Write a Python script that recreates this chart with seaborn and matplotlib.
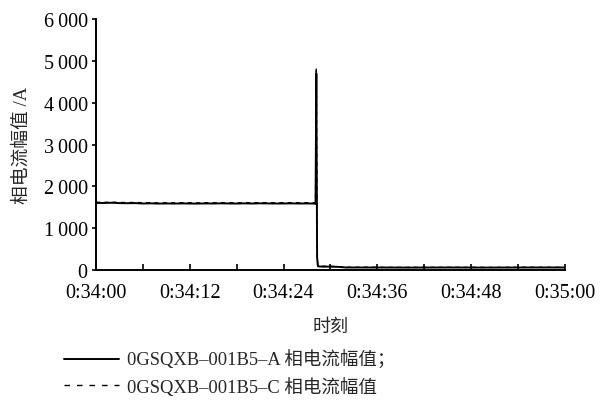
import numpy as np
import pandas as pd
import seaborn as sns
import matplotlib.pyplot as plt

# time in seconds after 0:34:00
t_sec = [0, 1, 2, 3, 4, 5, 6, 7, 8, 9, 10, 11, 12, 13, 14, 15, 16, 17, 18, 19,
         20, 21, 22, 23, 24, 25, 26, 27, 28, 28.1, 28.2, 28.3, 28.4, 28.6, 29,
         30, 31, 32, 35, 40, 45, 50, 55, 60]

# phase A current amplitude (solid)
amp_a = [1605, 1602, 1608, 1600, 1597, 1600, 1590, 1594, 1588, 1591, 1589, 1592,
         1590, 1588, 1592, 1590, 1594, 1591, 1589, 1593, 1590, 1594, 1592, 1590,
         1591, 1593, 1590, 1592, 1589, 1580, 4700, 300, 90, 85, 80,
         80, 75, 60, 60, 58, 60, 58, 60, 60]

# phase C current amplitude (dashed)
amp_c = [1620, 1618, 1622, 1615, 1612, 1616, 1608, 1611, 1604, 1608, 1606, 1610,
         1607, 1605, 1609, 1606, 1611, 1608, 1606, 1610, 1607, 1611, 1609, 1607,
         1608, 1610, 1607, 1609, 1606, 1600, 4850, 320, 100, 95, 90,
         88, 82, 66, 64, 62, 64, 62, 64, 64]

x_major = [0, 12, 24, 36, 48, 60]
x_labels = ["0:34:00", "0:34:12", "0:34:24", "0:34:36", "0:34:48", "0:35:00"]
x_minor = [6, 18, 30, 42, 54]
y_ticks = [0, 1000, 2000, 3000, 4000, 5000, 6000]
y_labels = ["0", "1\u2009000", "2\u2009000", "3\u2009000", "4\u2009000", "5\u2009000", "6\u2009000"]

name_a = "0GSQXB–001B5–A 相电流幅值；"
name_c = "0GSQXB–001B5–C 相电流幅值"

df = pd.DataFrame({"t": t_sec, "a": amp_a, "c": amp_c})

sns.set_style("ticks")
plt.rcParams["font.family"] = ["Liberation Serif", "Noto Sans CJK SC"]
plt.rcParams["font.size"] = 14

fig = plt.figure(figsize=(6.04, 4.06), dpi=100)
ax = fig.add_axes([0.159, 0.3325, 0.776, 0.618])

sns.lineplot(data=df, x="t", y="a", ax=ax, color="black", linewidth=1.4, label=name_a)
sns.lineplot(data=df, x="t", y="c", ax=ax, color="black", linewidth=1.0,
             linestyle=(0, (3, 3)), label=name_c)

ax.set_xlim(0, 60)
ax.set_ylim(0, 6000)
ax.set_xticks(x_major, x_labels)
ax.set_xticks(x_minor, minor=True)
ax.set_yticks(y_ticks, y_labels)
ax.tick_params(axis="x", which="both", direction="in", length=4, width=1.2,
               colors="black", labelsize=14.5, pad=9)
ax.tick_params(axis="y", direction="out", length=3, width=1.2, colors="black",
               labelsize=14.5, pad=3)
for s in ["top", "right"]:
    ax.spines[s].set_visible(False)
for s in ["left", "bottom"]:
    ax.spines[s].set_linewidth(1.4)
    ax.spines[s].set_color("black")

ax.set_xlabel("时刻", fontsize=13, labelpad=12)
ax.set_ylabel("相电流幅值 /A", fontsize=13.5, labelpad=9)

handles, labels = ax.get_legend_handles_labels()
ax.get_legend().remove()
leg = fig.legend(handles, labels, loc="upper left", bbox_to_anchor=(0.106, 0.135),
                 bbox_transform=fig.transFigure, frameon=False, fontsize=13.3,
                 handlelength=3.0, handletextpad=0.4, labelspacing=0.42,
                 borderaxespad=0, borderpad=0)
leg.get_lines()[1].set_linestyle((0, (4, 5)))

fig.savefig("out.png", dpi=100)
